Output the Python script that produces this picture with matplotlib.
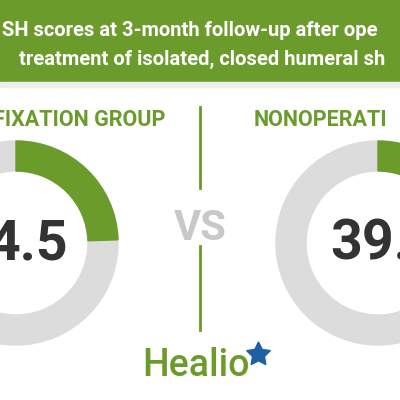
import matplotlib as mpl
mpl.use('Agg')
import matplotlib.pyplot as plt
from matplotlib.patches import Wedge, Rectangle

GREEN = '#6b9b2a'
GREY = '#dcdcdc'
DARK = '#333333'

title_lines = ["SH scores at 3-month follow-up after ope",
               "treatment of isolated, closed humeral sh"]
group_names = ["FIXATION GROUP", "NONOPERATI"]
scores = [24.5, 39.4]
score_labels = ["4.5", "39."]
max_score = 100.

fig = plt.figure(figsize=(4, 4), dpi=100)
ax = fig.add_axes([0, 0, 1, 1])
ax.set_xlim(0, 400)
ax.set_ylim(400, 0)
ax.axis('off')

ax.add_patch(Rectangle((0, 0), 400, 82, color=GREEN))
ax.add_patch(Rectangle((0, 82), 400, 5, color='#eeeeee'))
ax.text(2, 30, title_lines[0], color='white', fontsize=14.5, fontweight='bold',
        family='Roboto', va='center', ha='left')
ax.text(19, 59, title_lines[1], color='white', fontsize=14.5, fontweight='bold',
        family='Roboto', va='center', ha='left')

centers = [(16, 243), (378, 243)]
for (cx, cy), score in zip(centers, scores):
    ang = 360. * score / max_score
    # y axis inverted: angles go clockwise visually
    ax.add_patch(Wedge((cx, cy), 102, 0, 360, width=30, color=GREY))
    ax.add_patch(Wedge((cx, cy), 102, 270, 270 + ang, width=30, color=GREEN))

ax.text(165, 120, group_names[0], color=GREEN, fontsize=15.5, fontweight='bold',
        family='Roboto', ha='right', va='center')
ax.text(254, 120, group_names[1], color=GREEN, fontsize=15.5, fontweight='bold',
        family='Roboto', ha='left', va='center')
ax.text(68, 245, score_labels[0], color=DARK, fontsize=40, fontweight='bold',
        family='Roboto', ha='right', va='center')
ax.text(330, 245, score_labels[1], color=DARK, fontsize=40, fontweight='bold',
        family='Roboto', ha='left', va='center')

ax.plot([200, 200], [107, 188], color=GREEN, lw=2)
ax.plot([200, 200], [246, 330], color=GREEN, lw=2)
ax.text(200, 228, "VS", color='#c8c8c8', fontsize=30, fontweight='bold',
        family='Roboto', ha='center', va='center')

ax.text(196, 366, "Healio", color=GREEN, fontsize=27, family='Roboto',
        fontweight='medium', ha='center', va='center')
ax.plot([258], [354], marker=(5, 1), ms=18, color='#1f5fa8')

fig.savefig('out.png', dpi=100)
